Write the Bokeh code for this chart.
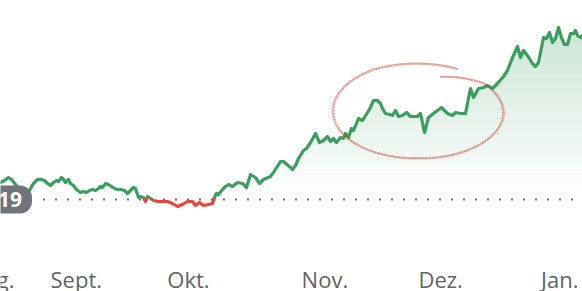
import numpy as np
from bokeh.plotting import figure
from bokeh.models import Range1d, BoxAnnotation, Label
from bokeh.core.properties import value
from bokeh.embed import file_html
from bokeh.resources import INLINE

# trading-day index (0 = first trading day of September) and price
day = [-8.56, -7.88, -7.19, -6.68, -5.99, -5.14, -4.11, -3.60, -2.91, -2.23, -1.54, -1.03, -0.51,
       0.00, 0.51, 1.03, 1.37, 1.88, 2.23, 2.57, 3.08, 3.42, 3.94, 4.45, 5.14, 5.65, 6.16, 6.68,
       7.19, 7.71, 8.22, 8.56, 8.90, 9.42, 9.93, 10.45, 10.96, 11.47, 11.99, 12.67, 13.18, 13.70,
       14.21, 14.55, 15.07, 15.41, 15.92, 16.27, 16.61, 17.12, 17.64, 18.49, 19.35, 20.03, 20.89,
       21.75, 22.60, 23.46, 24.32, 24.83, 25.51, 26.20, 27.05, 27.74, 28.08, 28.42, 28.77, 29.45,
       29.97, 30.48, 31.16, 32.02, 32.88, 33.56, 34.25, 35.10, 35.79, 36.47, 37.67, 38.18, 39.38,
       39.90, 41.10, 41.44, 41.95, 42.47, 43.32, 43.84, 44.52, 45.38, 46.06, 46.75, 47.43, 47.95,
       48.46, 48.97, 49.66, 50.17, 50.51, 51.03, 51.54, 51.88, 52.74, 53.42, 54.28, 54.79, 55.31,
       55.99, 56.51, 56.85, 57.36, 58.05, 58.56, 59.08, 59.59, 60.27, 60.96, 61.64, 62.33, 62.84,
       63.36, 64.04, 64.73, 65.58, 66.27, 66.95, 67.98, 68.84, 69.35, 70.21, 71.06, 71.92, 72.43,
       73.29, 74.14, 74.83, 75.68, 76.54, 77.57, 78.25, 78.77, 79.28, 79.97, 80.48, 80.99, 81.68,
       82.53, 83.05, 83.56, 84.42, 84.93, 85.45, 85.96, 86.47, 86.99, 87.50, 88.01, 88.53, 89.04,
       89.55, 89.90, 90.24, 90.75, 91.10]
price = [53.04, 53.14, 53.29, 53.19, 52.94, 52.64, 52.49, 52.64, 52.99, 53.19, 53.19, 53.14, 52.99,
         52.89, 53.04, 53.14, 53.09, 53.29, 53.19, 53.04, 53.19, 52.99, 52.89, 52.69, 52.54, 52.59,
         52.54, 52.64, 52.69, 52.64, 52.74, 52.84, 52.79, 52.99, 52.94, 52.84, 52.74, 52.69, 52.69,
         52.64, 52.49, 52.64, 52.79, 52.74, 52.29, 52.34, 52.29, 52.09, 52.34, 52.24, 52.14, 52.09,
         52.09, 52.09, 51.99, 51.84, 51.94, 52.09, 52.09, 51.89, 52.04, 51.89, 51.94, 51.99, 52.29,
         52.49, 52.44, 52.69, 52.84, 52.94, 52.84, 53.04, 52.99, 52.79, 53.44, 53.29, 52.99, 53.19,
         53.34, 53.54, 54.09, 54.09, 53.79, 53.69, 53.89, 54.24, 54.64, 54.74, 55.04, 55.49, 55.04,
         55.14, 55.34, 55.09, 55.24, 55.04, 55.29, 55.24, 55.49, 55.29, 55.74, 55.64, 56.24, 56.14,
         56.54, 56.79, 57.14, 57.14, 56.99, 56.74, 56.49, 56.44, 56.39, 56.64, 56.34, 56.39, 56.54,
         56.34, 56.34, 56.34, 56.49, 55.54, 56.29, 56.49, 56.64, 56.79, 56.49, 56.39, 56.54, 56.49,
         56.49, 57.74, 57.29, 57.74, 57.79, 57.89, 57.74, 57.99, 58.34, 58.64, 59.04, 59.39, 59.84,
         59.29, 59.64, 59.39, 58.99, 58.84, 59.04, 60.29, 60.24, 60.54, 60.04, 60.24, 60.79, 60.29,
         59.94, 59.94, 60.49, 60.49, 60.64, 60.39, 60.29, 60.39]

prev_close = 52.19
prev_close_label = "52,19"

month_labels = ["Aug.", "Sept.", "Okt.", "Nov.", "Dez.", "Jan."]
month_pos = [-13.9, 0, 20, 43, 63, 84]

# annotation circle around the Nov/Dez sideways phase (data coords)
circle_center = (63.0, 56.49)
circle_radii = (14.55, 2.35)

GREEN = "#3a9e5f"
RED = "#e8453c"
TINT = np.array([58, 158, 95])

x = np.array(day)
y = np.array(price)
Y_TOP = 62.14

p = figure(width=582, height=291, output_backend="svg", toolbar_location=None,
           x_range=Range1d(-8.5616, 91.096), y_range=Range1d(47.59, Y_TOP),
           x_axis_location=None, y_axis_location=None, min_border=0,
           background_fill_color="white", border_fill_color="white")
p.outline_line_color = None
p.grid.visible = False

# vertical gradient fill above previous close: opaque bands drawn bottom-up
levels = np.linspace(prev_close, Y_TOP, 50)
for L in levels[:-1]:
    a = 0.31 * (L - prev_close) / (Y_TOP - prev_close)
    c = np.round(255 - a * (255 - TINT)).astype(int)
    col = "#%02x%02x%02x" % tuple(c)
    p.varea(x=x, y1=np.minimum(y, L), y2=y, fill_color=col, fill_alpha=1.0)

# faint red fill below previous close
p.varea(x=x, y1=np.minimum(y, prev_close), y2=np.full_like(y, prev_close),
        fill_color=RED, fill_alpha=0.05)

# dotted previous-close line
p.line(x=[-1.28, 91.1], y=[prev_close, prev_close], line_color="#6b6b6b",
       line_width=2, line_dash="2 10")

# split the line into above / below segments
segs = []
cx, cy = [x[0]], [y[0]]
above = y[0] >= prev_close
for i in range(1, len(x)):
    a = y[i] >= prev_close
    if a != above:
        t = (prev_close - y[i - 1]) / (y[i] - y[i - 1])
        xc = x[i - 1] + t * (x[i] - x[i - 1])
        cx.append(xc); cy.append(prev_close)
        segs.append((cx, cy, above))
        cx, cy = [xc], [prev_close]
        above = a
    cx.append(x[i]); cy.append(y[i])
segs.append((cx, cy, above))

gx = [s[0] for s in segs if s[2]]
gy = [s[1] for s in segs if s[2]]
rx = [s[0] for s in segs if not s[2]]
ry = [s[1] for s in segs if not s[2]]
p.multi_line(xs=gx, ys=gy, line_color=GREEN, line_width=3.2, line_join="round", line_cap="round")
p.multi_line(xs=rx, ys=ry, line_color=RED, line_width=3.2, line_join="round", line_cap="round")

# hand-drawn (pencil-like) circle annotation
tdeg = np.linspace(64, 432, 400)
rk = np.interp(tdeg, [64, 120, 180, 270, 360, 400, 432], [1.05, 1.07, 1.0, 0.95, 1.0, 1.0, 0.82])
th = np.radians(tdeg)
for scale, alpha, w, dash in [(1.0, 0.30, 2.2, "solid"), (1.012, 0.45, 1.3, "1 1"),
                              (0.99, 0.35, 1.2, "1 2")]:
    ex = circle_center[0] + circle_radii[0] * rk * scale * np.cos(th)
    ey = circle_center[1] + circle_radii[1] * rk * scale * np.sin(th)
    p.line(x=ex, y=ey, line_color="#c63a24", line_alpha=alpha, line_width=w, line_dash=dash)

# month labels
p.text(x=month_pos, y=[48.22] * len(month_pos), text=month_labels,
       text_font=value("Open Sans"), text_font_size="22px", text_color="#5f6368",
       text_align="left", text_baseline="middle")

# previous-close badge
badge = BoxAnnotation(left=-20, right=-3.17, bottom=51.49, top=52.89,
                      fill_color="#707377", fill_alpha=1.0, line_color=None,
                      border_radius=12)
p.add_layout(badge)
p.add_layout(Label(x=-4.88, y=prev_close, text=prev_close_label, text_align="right",
                   text_baseline="middle", text_color="white", text_font="Open Sans",
                   text_font_style="bold", text_font_size="21px"))

open("out.html", "w").write(file_html(p, INLINE))
